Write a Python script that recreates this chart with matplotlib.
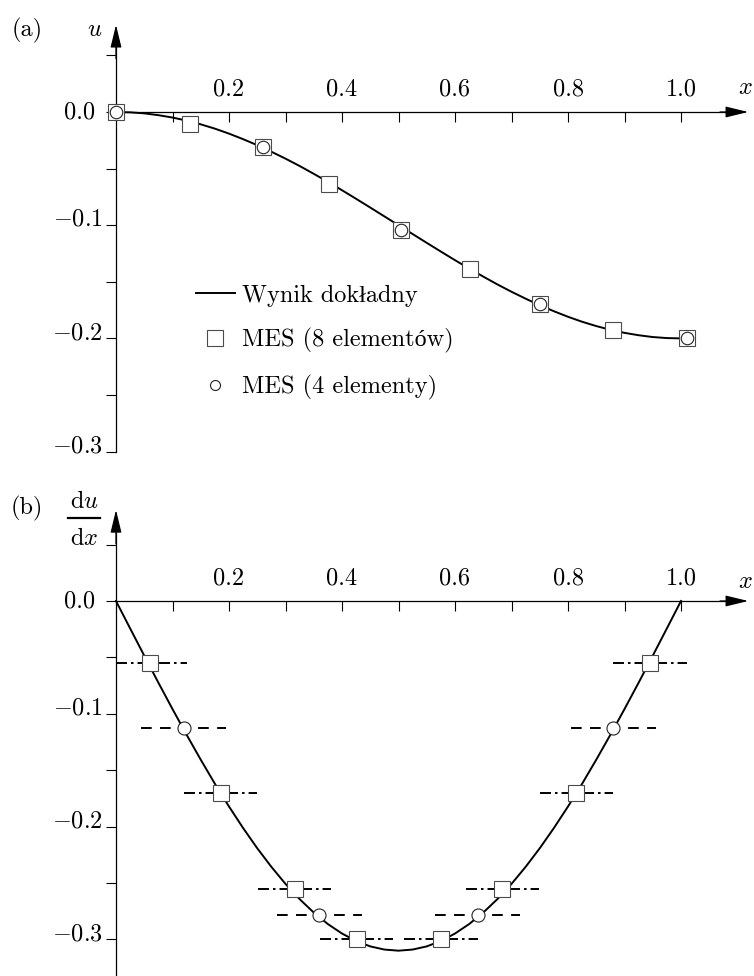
import matplotlib.pyplot as plt
from matplotlib.lines import Line2D

plt.rcParams['font.family'] = ['cmr10', 'Liberation Serif']
plt.rcParams['mathtext.fontset'] = 'cm'
plt.rcParams['axes.unicode_minus'] = False
plt.rcParams['lines.scale_dashes'] = False

# --- dane (a): przemieszczenie u(x)
x_exact = [0.0, 0.025, 0.05, 0.075, 0.1, 0.125, 0.15, 0.175, 0.2, 0.225, 0.25,
           0.275, 0.3, 0.325, 0.35, 0.375, 0.4, 0.425, 0.45, 0.475, 0.5,
           0.525, 0.55, 0.575, 0.6, 0.625, 0.65, 0.675, 0.7, 0.725, 0.75,
           0.775, 0.8, 0.825, 0.85, 0.875, 0.9, 0.925, 0.95, 0.975, 1.0]
u_exact = [0.0, -0.0003, -0.0012, -0.0028, -0.0049, -0.0076, -0.0109, -0.0147, -0.0191, -0.0240, -0.0293,
           -0.0351, -0.0412, -0.0477, -0.0546, -0.0617, -0.0691, -0.0767, -0.0844, -0.0922, -0.1000,
           -0.1078, -0.1156, -0.1233, -0.1309, -0.1383, -0.1454, -0.1523, -0.1588, -0.1649, -0.1707,
           -0.1760, -0.1809, -0.1853, -0.1891, -0.1924, -0.1951, -0.1972, -0.1988, -0.1997, -0.2000]
x_mes8 = [0.0, 0.131, 0.260, 0.377, 0.504, 0.627, 0.750, 0.880, 1.011]
u_mes8 = [0.0, -0.011, -0.031, -0.064, -0.104, -0.139, -0.170, -0.193, -0.200]
x_mes4 = [0.0, 0.260, 0.504, 0.750, 1.011]
u_mes4 = [0.0, -0.031, -0.104, -0.170, -0.200]

# --- dane (b): pochodna du/dx
dudx_exact = [0.0, -0.0243, -0.0485, -0.0724, -0.0958, -0.1186, -0.1407, -0.1620, -0.1822, -0.2013, -0.2192,
              -0.2357, -0.2508, -0.2643, -0.2762, -0.2864, -0.2948, -0.3014, -0.3062, -0.3090, -0.3100,
              -0.3090, -0.3062, -0.3014, -0.2948, -0.2864, -0.2762, -0.2643, -0.2508, -0.2357, -0.2192,
              -0.2013, -0.1822, -0.1620, -0.1407, -0.1186, -0.0958, -0.0724, -0.0485, -0.0243, 0.0]
x_sq = [0.060, 0.185, 0.316, 0.426, 0.575, 0.684, 0.815, 0.945]
d_sq = [-0.055, -0.170, -0.255, -0.300, -0.300, -0.255, -0.170, -0.055]
x_ci = [0.120, 0.360, 0.640, 0.880]
d_ci = [-0.113, -0.278, -0.278, -0.113]

xticks_major = [0.2, 0.4, 0.6, 0.8, 1.0]
xtick_labels = ['0.2', '0.4', '0.6', '0.8', '1.0']
xticks_minor = [0.1, 0.3, 0.5, 0.7, 0.9]
yticks = [0.0, -0.1, -0.2, -0.3]
ytick_labels = ['0.0', '$-0.1$', '$-0.2$', '$-0.3$']
yticks_minor = [0.05, -0.05, -0.15, -0.25]

W, H = 754, 976
FS = 17.5
X0, SX = 116, 565          # piksel osi y, piksele na jednostke x


def make_axes(fig, y0, sy, xlim, ylim):
    left = X0 + xlim[0] * SX
    width = (xlim[1] - xlim[0]) * SX
    top = y0 - ylim[1] * sy
    bottom = y0 - ylim[0] * sy
    ax = fig.add_axes([left / W, 1 - bottom / H, width / W, (bottom - top) / H])
    ax.set_xlim(*xlim)
    ax.set_ylim(*ylim)
    ax.patch.set_alpha(0)
    return ax


def style_axes(ax, x_tip, y_bottom, y_tip):
    ax.spines['right'].set_visible(False)
    ax.spines['bottom'].set_visible(False)
    ax.spines['top'].set_position(('data', 0))
    ax.spines['left'].set_position(('data', 0))
    ax.spines['top'].set_bounds(0, x_tip - 0.02)
    ax.spines['left'].set_bounds(y_bottom, y_tip - 0.02)
    for s in ('top', 'left'):
        ax.spines[s].set_linewidth(0.9)
    ax.xaxis.set_ticks_position('top')
    ax.yaxis.set_ticks_position('left')
    ax.set_xticks(xticks_major, xtick_labels)
    ax.set_xticks(xticks_minor, minor=True)
    ax.set_yticks(yticks)
    ax.set_yticks(yticks_minor, minor=True)
    ax.tick_params(axis='x', which='both', direction='in', length=7.5, width=0.8,
                   pad=8, labelsize=FS)
    ax.tick_params(axis='y', which='both', direction='out', length=7.5, width=0.8,
                   labelleft=False)
    arrow = dict(arrowstyle='-|>, head_length=0.7, head_width=0.17', color='k',
                 lw=0.9, shrinkA=0, shrinkB=0, mutation_scale=20)
    ax.annotate('', xy=(x_tip, 0), xytext=(x_tip - 0.05, 0), arrowprops=arrow,
                annotation_clip=False)
    ax.annotate('', xy=(0, y_tip), xytext=(0, y_tip - 0.03), arrowprops=arrow,
                annotation_clip=False)
    for v, s in zip(yticks, ytick_labels):
        if v == 0:
            ax.annotate(s, xy=(0, v), xytext=(-15, 0), textcoords='offset points',
                        ha='right', va='center', fontsize=FS)
        else:
            ax.annotate(s, xy=(0, v), xytext=(-9.5, -0.5), textcoords='offset points',
                        ha='right', va='baseline', fontsize=FS)


fig = plt.figure(figsize=(W / 100, H / 100), dpi=100)

# ---------------- (a)
ax = make_axes(fig, 112, 1132, (-0.15, 1.13), (-0.32, 0.095))
style_axes(ax, 1.119, -0.3, 0.077)
ax.plot(x_exact, u_exact, color='k', lw=1.4, zorder=2)
ax.plot(x_mes8, u_mes8, ls='none', marker='s', ms=12.2, mfc='white', mec='#4a4a4a',
        mew=0.8, zorder=3, clip_on=False)
ax.plot(x_mes4, u_mes4, ls='none', marker='o', ms=9, mfc='white', mec='#222222',
        mew=0.8, zorder=4, clip_on=False)

handles = [Line2D([], [], color='k', lw=1.4),
           Line2D([], [], ls='none', marker='s', ms=12, mfc='white', mec='#4a4a4a', mew=0.8),
           Line2D([], [], ls='none', marker='o', ms=7.2, mfc='white', mec='#222222', mew=0.8)]
labels = ['Wynik dokładny', 'MES (8 elementów)', 'MES (4 elementy)']
ax.legend(handles, labels, loc='center left', bbox_to_anchor=(196 / W, 1 - 342 / H),
          bbox_transform=fig.transFigure, frameon=False, borderpad=0, borderaxespad=0,
          handlelength=1.6, handletextpad=0.28, labelspacing=0.88, fontsize=FS)

fig.text(27 / W, 1 - 30 / H, '(a)', ha='center', va='center', fontsize=FS)
fig.text(95 / W, 1 - 30 / H, '$u$', ha='center', va='center', fontsize=FS)
fig.text(745 / W, 1 - 88 / H, '$x$', ha='center', va='center', fontsize=FS)

# ---------------- (b)
ax = make_axes(fig, 601, 1128, (-0.15, 1.13), (-(H - 601) / 1128, 0.1))
style_axes(ax, 1.119, -(H - 601) / 1128, 0.0807)
ax.plot(x_exact, dudx_exact, color='k', lw=1.4, zorder=2)
for xc, d in zip(x_sq, d_sq):
    ax.plot([max(0, xc - 0.065), xc + 0.065], [d, d], color='k', lw=1.4,
            dashes=(7.9, 2.9, 1.8, 2.9), zorder=2)
for xc, d in zip(x_ci, d_ci):
    ax.plot([xc - 0.075, xc + 0.075], [d, d], color='k', lw=1.4,
            dashes=(7.7, 6.0), zorder=2)
ax.plot(x_sq, d_sq, ls='none', marker='s', ms=12.2, mfc='white', mec='#4a4a4a',
        mew=0.8, zorder=3)
ax.plot(x_ci, d_ci, ls='none', marker='o', ms=9.4, mfc='white', mec='#222222',
        mew=0.8, zorder=3)

fig.text(27 / W, 1 - 508 / H, '(b)', ha='center', va='center', fontsize=FS)
# ulamek du/dx skladany recznie: licznik, kreska, mianownik
fig.text(84 / W, 1 - 508 / H, r'$\mathrm{d}u$', ha='center', va='baseline', fontsize=FS)
fig.add_artist(Line2D([68 / W, 100 / W], [1 - 518 / H, 1 - 518 / H], color='k', lw=1.6,
                      transform=fig.transFigure))
fig.text(84 / W, 1 - 545 / H, r'$\mathrm{d}x$', ha='center', va='baseline', fontsize=FS)
fig.text(745 / W, 1 - 582 / H, '$x$', ha='center', va='center', fontsize=FS)

fig.savefig('out.png', dpi=100)
